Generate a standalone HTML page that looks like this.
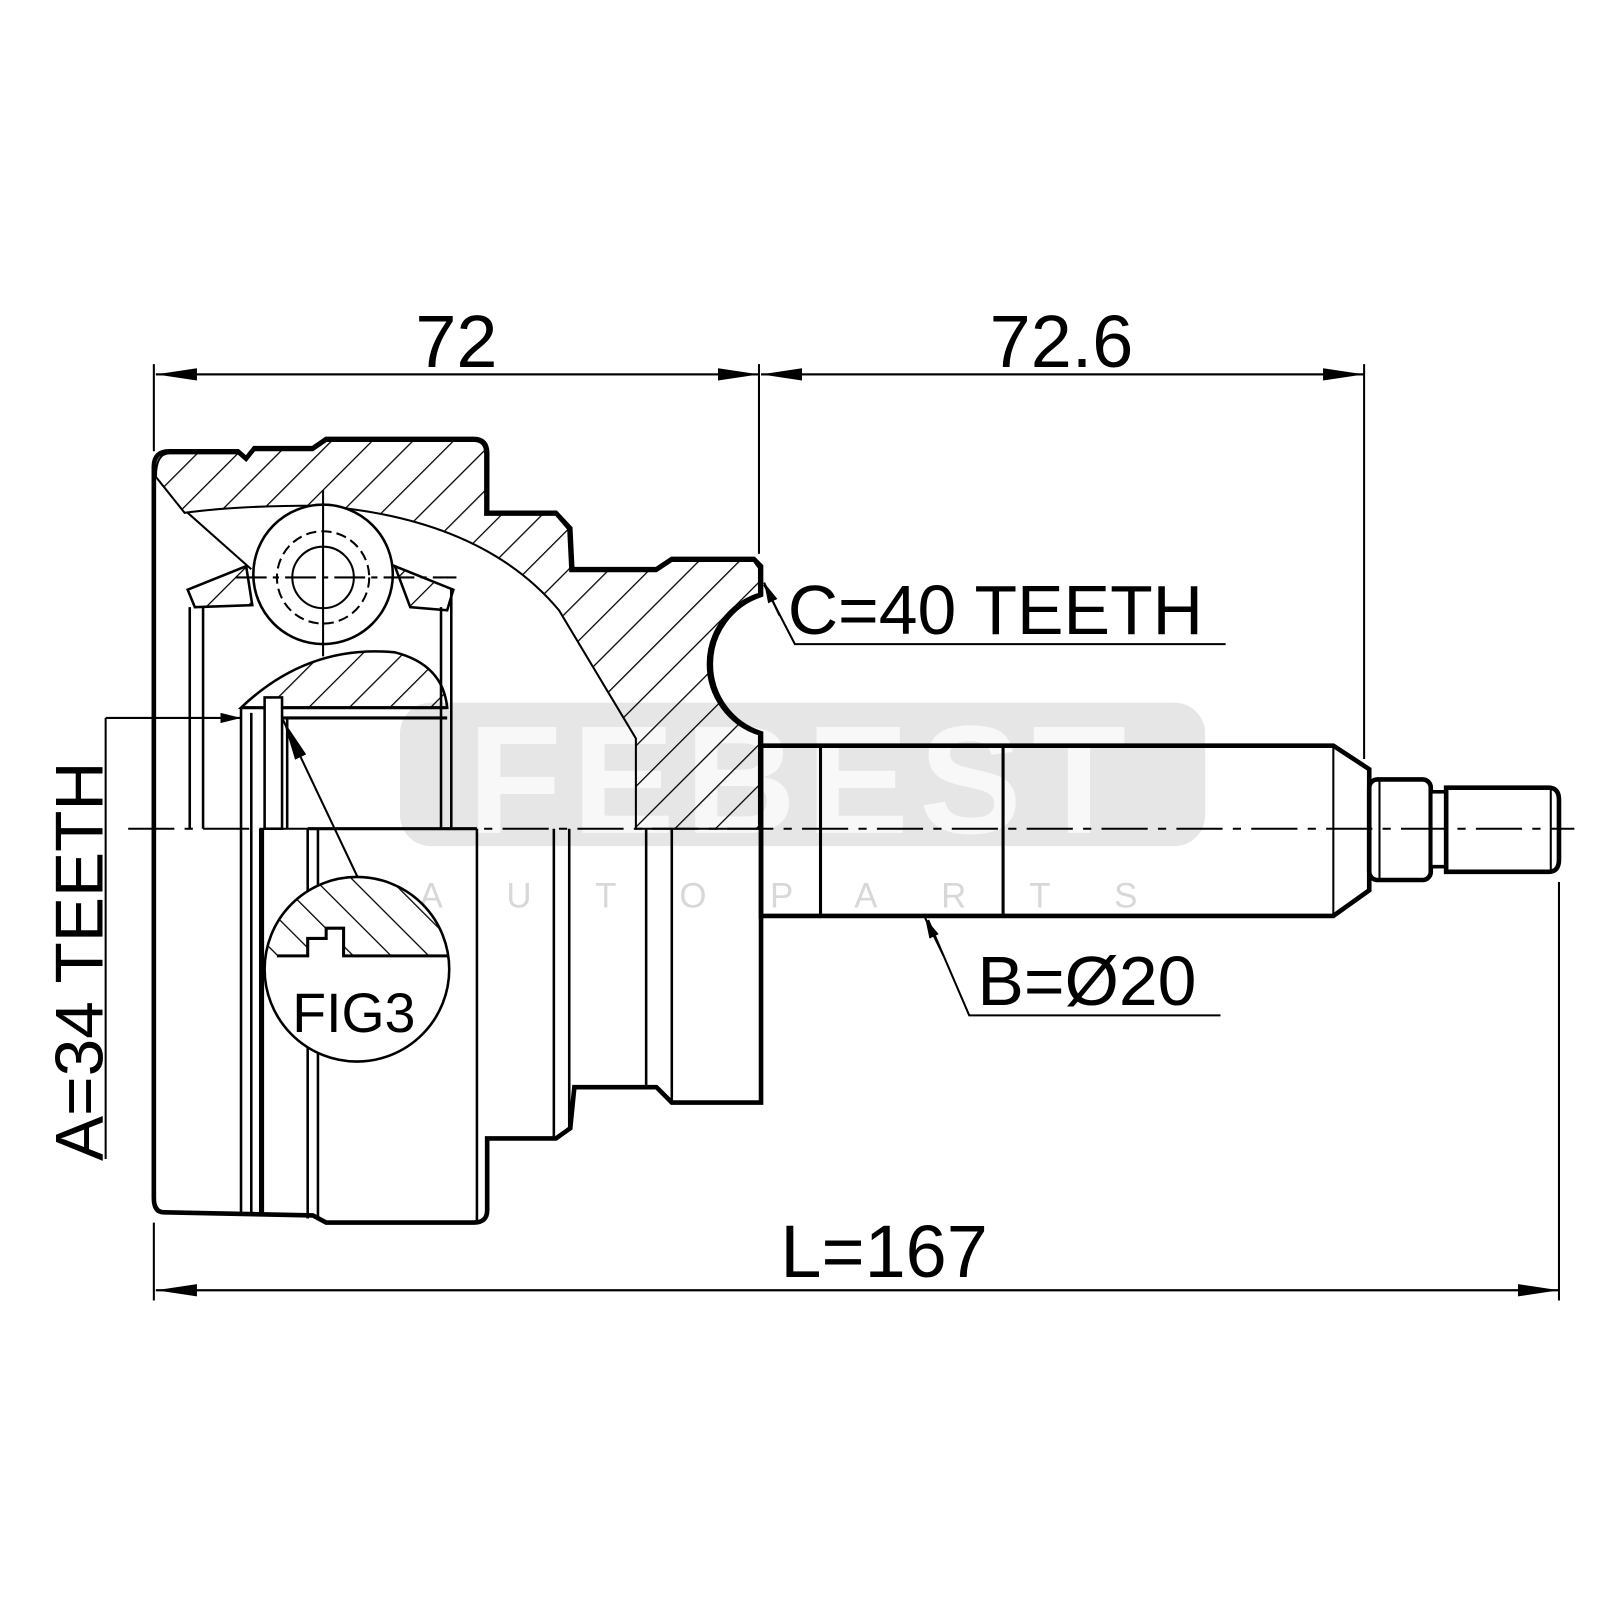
<!DOCTYPE html>
<html><head><meta charset="utf-8"><style>
html,body{margin:0;padding:0;background:#fff;}
svg{display:block;}
text{font-family:"Liberation Sans",Arial,sans-serif;fill:#000;}
</style></head><body>
<svg width="1600" height="1600" viewBox="0 0 1560 1560" xmlns="http://www.w3.org/2000/svg">
<defs>
<pattern id="h1" patternUnits="userSpaceOnUse" width="28" height="28" patternTransform="rotate(45)">
<line x1="0" y1="0" x2="0" y2="28" stroke="#000" stroke-width="2.5"/>
</pattern>
<pattern id="h2" patternUnits="userSpaceOnUse" width="26" height="26" patternTransform="rotate(-45)">
<line x1="0" y1="0" x2="0" y2="26" stroke="#000" stroke-width="2.5"/>
</pattern>
<clipPath id="fc"><circle cx="348" cy="945" r="90"/></clipPath>
<marker id="ar" viewBox="0 0 20 10" refX="20" refY="5" markerWidth="20" markerHeight="10" orient="auto" markerUnits="userSpaceOnUse">
<path d="M0,0 L20,5 L0,10 Z" fill="#000"/>
</marker>
<marker id="ar2" viewBox="0 0 40 12" refX="40" refY="6" markerWidth="40" markerHeight="12" orient="auto" markerUnits="userSpaceOnUse">
<path d="M0,0 L40,6 L0,12 Z" fill="#000"/>
</marker>
</defs>

<!-- watermark -->
<rect x="390" y="685" width="785" height="140" rx="30" fill="#e6e6e6"/>
<text x="782" y="812" font-size="150" font-weight="bold" text-anchor="middle" style="fill:#f8f8f8" letter-spacing="10">FEBEST</text>
<text x="790" y="885" font-size="34" text-anchor="middle" style="fill:#d8d8d8" letter-spacing="62">AUTOPARTS</text>

<!-- dimension lines -->
<g stroke="#000" stroke-width="2" fill="none">
<line x1="150" y1="355" x2="150" y2="440"/>
<line x1="740" y1="355" x2="740" y2="540"/>
<line x1="1330" y1="355" x2="1330" y2="740"/>
<line x1="150" y1="1192" x2="150" y2="1268"/>
<line x1="1520" y1="860" x2="1520" y2="1268"/>
<line x1="740" y1="365" x2="152" y2="365" marker-end="url(#ar2)"/>
<line x1="152" y1="365" x2="740" y2="365" marker-end="url(#ar2)"/>
<line x1="1330" y1="365" x2="742" y2="365" marker-end="url(#ar2)"/>
<line x1="742" y1="365" x2="1330" y2="365" marker-end="url(#ar2)"/>
<line x1="1520" y1="1258" x2="152" y2="1258" marker-end="url(#ar2)"/>
<line x1="152" y1="1258" x2="1520" y2="1258" marker-end="url(#ar2)"/>
</g>
<text x="445" y="358" font-size="72" text-anchor="middle">72</text>
<text x="1035" y="358" font-size="72" text-anchor="middle">72.6</text>
<text x="862" y="1245" font-size="72" text-anchor="middle">L=167</text>

<!-- housing outline -->
<path d="M150,455 Q150,440 165,440 L232,440 L240,447 L248,437 L305,437 L318,428 L462,428 Q475,428 475,442 L475,500 L542,500 L556,515 L558,555 L640,555 L655,545 L735,545 L742,552 L742,580 A71 71 0 0 0 742 715 L742,1075 L655,1075 L640,1060 L560,1060 L556,1100 L542,1110 L475,1110 L475,1180 Q475,1192 462,1192 L318,1192 L305,1185 L160,1182 Q150,1182 150,1168 Z" fill="none" stroke="#000" stroke-width="4.5"/>

<!-- hatched upper housing -->
<path d="M152,465 Q152,442 165,442 L232,442 L240,449 L248,439 L305,439 L318,430 L462,430 Q473,430 473,442 L473,502 L542,502 L554,516 L556,557 L640,557 L655,547 L735,547 L740,554 L740,580 A71 71 0 0 0 740 715 L740,808 L620,808 L620,720 L545,595 Q470,505 310,493 Q230,493 180,500 Z" fill="url(#h1)" stroke="#000" stroke-width="2"/>
<line x1="183" y1="500" x2="245" y2="555" stroke="#000" stroke-width="2"/>
<path d="M740,580 A71 71 0 0 0 740 715" fill="none" stroke="#000" stroke-width="4"/>

<!-- cage -->
<path d="M183,575 L240,552 L246,590 L190,592 Z" fill="url(#h1)" stroke="#000" stroke-width="2.5"/>
<path d="M385,552 L442,575 L436,595 L400,592 Z" fill="url(#h1)" stroke="#000" stroke-width="2.5"/>
<!-- ball -->
<circle cx="315" cy="560" r="68" fill="#fff" stroke="#000" stroke-width="2.5"/>
<circle cx="315" cy="563" r="45" fill="none" stroke="#000" stroke-width="2" stroke-dasharray="10 5"/>
<circle cx="315" cy="563" r="30" fill="none" stroke="#000" stroke-width="2"/>
<line x1="315" y1="478" x2="315" y2="640" stroke="#000" stroke-width="2"/>
<line x1="230" y1="563" x2="445" y2="563" stroke="#000" stroke-width="2" stroke-dasharray="30 6 6 6"/>

<!-- inner race -->
<path d="M235,690 Q300,628 385,636 Q432,648 436,690 Z" fill="url(#h1)" stroke="#000" stroke-width="2.5"/>
<line x1="235" y1="690" x2="436" y2="690" stroke="#000" stroke-width="3"/>
<line x1="275" y1="700" x2="436" y2="700" stroke="#000" stroke-width="3"/>

<!-- verticals -->
<g stroke="#000" stroke-width="2.5">
<line x1="185" y1="592" x2="185" y2="808"/>
<line x1="198" y1="592" x2="198" y2="808"/>
<line x1="430" y1="592" x2="430" y2="808"/>
<line x1="440" y1="575" x2="440" y2="808"/>
<line x1="235" y1="690" x2="235" y2="1182"/>
<line x1="245" y1="695" x2="245" y2="1182"/>
<line x1="255" y1="808" x2="255" y2="1182" stroke-width="5"/>
<line x1="280" y1="700" x2="280" y2="808"/>
<line x1="300" y1="808" x2="300" y2="1188"/>
<line x1="310" y1="808" x2="310" y2="1190"/>
<line x1="465" y1="808" x2="465" y2="1190"/>
<line x1="540" y1="808" x2="540" y2="1108"/>
<line x1="555" y1="808" x2="555" y2="1100"/>
<line x1="630" y1="808" x2="630" y2="1062"/>
<line x1="655" y1="808" x2="655" y2="1075"/>
</g>
<rect x="258" y="680" width="17" height="128" fill="#fff" stroke="#000" stroke-width="2.5"/>
<line x1="300" y1="808" x2="465" y2="808" stroke="#000" stroke-width="3"/>

<!-- shaft -->
<g stroke="#000" fill="none">
<path d="M742,727 L1300,727 L1335,750 L1335,868 L1300,893 L742,893 Z" stroke-width="4.5"/>
<line x1="800" y1="727" x2="800" y2="893" stroke-width="3"/>
<line x1="978" y1="727" x2="978" y2="893" stroke-width="3"/>
<line x1="1300" y1="727" x2="1300" y2="893" stroke-width="2"/>
<rect x="1335" y="760" width="60" height="98" rx="8" stroke-width="4.5" fill="#fff"/>
<line x1="1345" y1="760" x2="1345" y2="858" stroke-width="2"/>
<rect x="1395" y="772" width="15" height="73" stroke-width="3.5" fill="#fff"/>
<path d="M1410,768 L1510,768 Q1520,768 1520,780 L1520,838 Q1520,850 1510,850 L1410,850 Z" stroke-width="4.5" fill="#fff"/>
<line x1="1512" y1="770" x2="1512" y2="848" stroke-width="2"/>
</g>

<!-- centerline -->
<line x1="125" y1="808" x2="1535" y2="808" stroke="#000" stroke-width="2" stroke-dasharray="45 10 8 10"/>

<!-- A callout -->
<line x1="103" y1="700" x2="103" y2="1130" stroke="#000" stroke-width="2"/>
<line x1="103" y1="700" x2="235" y2="700" stroke="#000" stroke-width="2" marker-end="url(#ar)"/>
<text transform="translate(100,1132) rotate(-90)" font-size="66">A=34 TEETH</text>

<!-- FIG3 -->
<line x1="350" y1="858" x2="276" y2="702" stroke="#000" stroke-width="2" marker-end="url(#ar2)"/>
<circle cx="348" cy="945" r="90" fill="#fff" stroke="#000" stroke-width="2.5"/>
<g clip-path="url(#fc)">
<path d="M250,850 L450,850 L450,932 L335,932 L335,905 L318,905 L318,915 L300,915 L300,932 L250,932 Z" fill="url(#h2)"/>
<path d="M270,932 L300,932 L300,915 L318,915 L318,905 L335,905 L335,932 L440,932" fill="none" stroke="#000" stroke-width="3"/>
</g>
<text x="345" y="1006" font-size="54" text-anchor="middle">FIG3</text>

<!-- C callout -->
<polyline points="1195,628 775,628 745,570" fill="none" stroke="#000" stroke-width="2"/>
<line x1="760" y1="600" x2="745" y2="568" stroke="#000" stroke-width="2" marker-end="url(#ar)"/>
<text x="768" y="618" font-size="68">C=40 TEETH</text>

<!-- B callout -->
<polyline points="1190,990 945,990 905,897" fill="none" stroke="#000" stroke-width="2"/>
<line x1="920" y1="932" x2="902" y2="895" stroke="#000" stroke-width="2" marker-end="url(#ar)"/>
<text x="953" y="980" font-size="68">B=Ø20</text>
</svg>
</body></html>
